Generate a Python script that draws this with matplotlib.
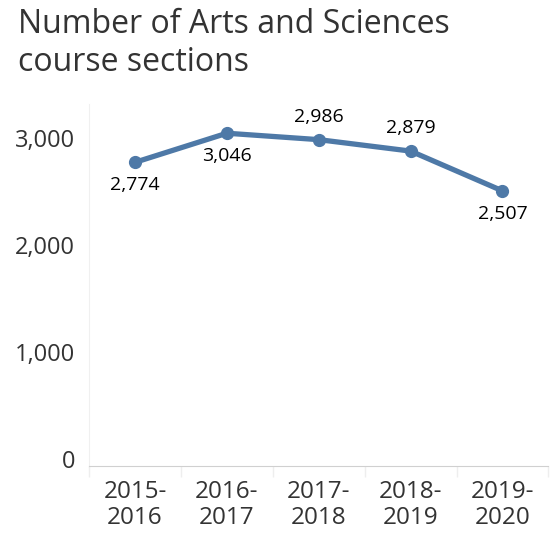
import numpy as np
import matplotlib.pyplot as plt
import matplotlib.ticker as mticker

# Course sections per academic year
years = ["2015-\n2016", "2016-\n2017", "2017-\n2018", "2018-\n2019", "2019-\n2020"]
sections = [2774, 3046, 2986, 2879, 2507]
label_above = [False, False, True, True, False]

TEXT = "#333333"
LINE = "#4e79a7"

plt.rcParams["font.family"] = ["Open Sans", "DejaVu Sans"]

fig = plt.figure(figsize=(5.5, 5.33), dpi=100)
ax = fig.add_axes([0.162, 0.126, 0.835, 0.679])

x = np.arange(len(years))
ax.plot(x, sections, color=LINE, linewidth=3.8, marker="o", markersize=8.5,
        solid_capstyle="round", zorder=3)

for xi, v, up in zip(x, sections, label_above):
    ax.annotate(f"{v:,}", (xi, v), xytext=(0, 10 if up else -10),
                textcoords="offset points", ha="center",
                va="bottom" if up else "top", fontsize=14, color="black")

ax.set_xlim(-0.5, len(years) - 0.5)
ax.set_ylim(-65, 3320)
ax.set_yticks([0, 1000, 2000, 3000])
ax.yaxis.set_major_formatter(mticker.FuncFormatter(lambda v, _: f"{int(v):,}"))
ax.set_xticks(x)
ax.set_xticklabels(years, fontsize=17.5, color=TEXT, linespacing=1.15)
ax.set_xticks(np.arange(-0.5, len(years)), minor=True)

ax.tick_params(axis="y", length=0, pad=10, labelsize=17, labelcolor=TEXT)
ax.tick_params(axis="x", which="major", length=0, pad=10)
ax.tick_params(axis="x", which="minor", length=8, color="#eeeeee", width=1)

for side in ("top", "right"):
    ax.spines[side].set_visible(False)
ax.spines["left"].set_color("#f0f0f0")
ax.spines["bottom"].set_color("#d0d0d0")

fig.text(0.033, 0.985, "Number of Arts and Sciences\ncourse sections",
         ha="left", va="top", fontsize=23, color=TEXT, linespacing=1.2)

fig.savefig("out.png")
